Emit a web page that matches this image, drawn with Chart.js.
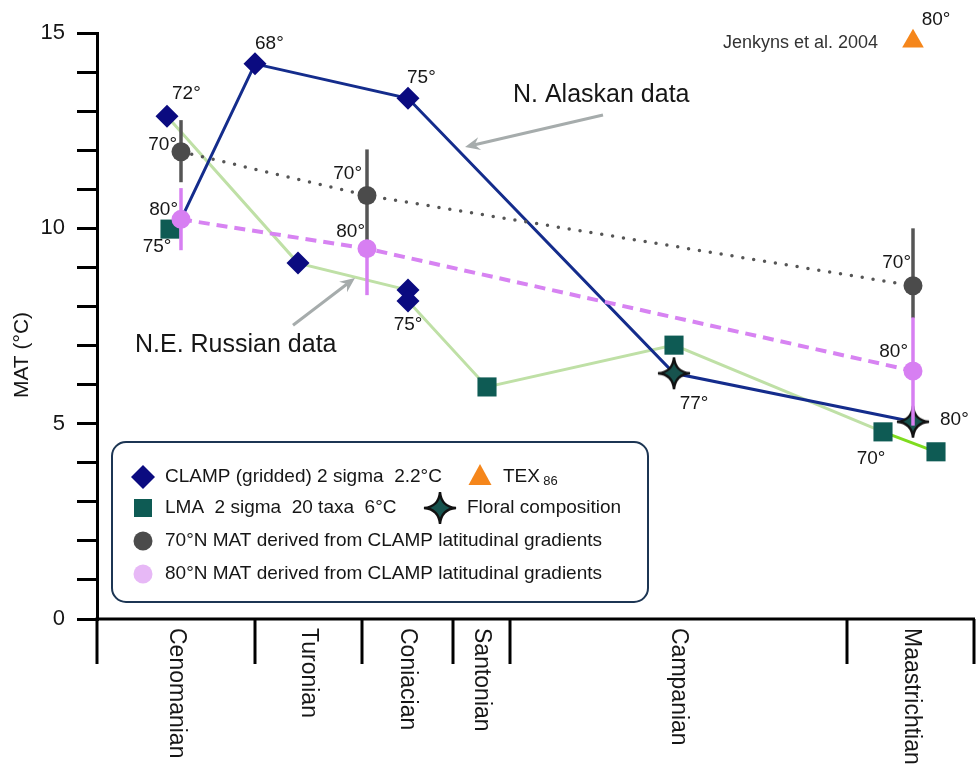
<!DOCTYPE html>
<html>
<head>
<meta charset="utf-8">
<script src="https://cdn.jsdelivr.net/npm/chart.js@4.4.1/dist/chart.umd.min.js"></script>
<style>
  html, body { margin: 0; padding: 0; background: #fff; }
  canvas { display: block; }
</style>
</head>
<body>
<canvas id="matChart" width="977" height="769"></canvas>
<script>
// stages along the bottom axis (relative position units, left to right)
const stageNames = ['Cenomanian', 'Turonian', 'Coniacian', 'Santonian', 'Campanian', 'Maastrichtian'];
const stageBounds = [0, 158, 265, 356, 413, 750, 878];

// CLAMP (gridded) estimates
const clampX = [70, 158, 201, 311, 311, 311];
const clampY = [12.87, 14.21, 9.11, 13.33, 8.42, 8.14];
const clampLat = ['72°', '68°', '', '75°', '', '75°'];

// LMA estimates
const lmaX = [73, 390, 577, 786, 839];
const lmaY = [9.98, 5.94, 7.01, 4.79, 4.28];
const lmaLat = ['75°', '', '', '70°', ''];

// floral composition
const floralX = [577, 816];
const floralY = [6.29, 5.05];
const floralLat = ['77°', '80°'];

// TEX86
const texX = [816];
const texY = [14.79];
const texLat = ['80°'];

// MAT derived from CLAMP latitudinal gradients
const gradX = [84, 270, 816];
const mat70 = [11.96, 10.84, 8.53];
const mat70Lo = [11.18, 9.62, 7.70];
const mat70Hi = [12.77, 12.02, 10.00];
const mat70Lat = ['70°', '70°', '70°'];
const mat80 = [10.23, 9.48, 6.35];
const mat80Lo = [9.44, 8.29, 4.95];
const mat80Hi = [11.03, 9.60, 7.72];
const mat80Lat = ['80°', '80°', '80°'];

// connecting lines
const alaskaX = [84, 158, 311, 577, 816];
const alaskaY = [10.23, 14.21, 13.33, 6.29, 5.05];
const russiaX = [70, 201, 311, 311, 390, 577, 786, 839];
const russiaY = [12.87, 9.11, 8.42, 8.14, 5.94, 7.01, 4.79, 4.28];

// free text notes (in axis units)
const notes = [
  { text: 'N. Alaskan data', x: 416, y: 13.41, size: 25, align: 'left' },
  { text: 'N.E. Russian data', x: 38, y: 7.01, size: 25, align: 'left' },
  { text: 'Jenkyns et al. 2004', x: 781, y: 14.74, size: 18, align: 'right', color: '#333' }
];
const arrows = [
  { from: [506, 12.90], to: [368, 12.08] },
  { from: [196, 7.52], to: [258, 8.73] }
];

const FONT = "'Liberation Sans', Arial, Helvetica, sans-serif";
const INK = '#161616';

function pts(xs, ys) {
  return xs.map((x, i) => ({ x: x, y: ys[i] }));
}

function makeStar(size) {
  const c = document.createElement('canvas');
  c.width = size;
  c.height = size;
  const g = c.getContext('2d');
  const m = size / 2, e = 5, k = size * 0.03;
  g.beginPath();
  g.moveTo(m, e);
  g.quadraticCurveTo(m + k, m - k, size - e, m);
  g.quadraticCurveTo(m + k, m + k, m, size - e);
  g.quadraticCurveTo(m - k, m + k, e, m);
  g.quadraticCurveTo(m - k, m - k, m, e);
  g.closePath();
  g.fillStyle = '#17534e';
  g.fill();
  g.lineWidth = 2.4;
  g.strokeStyle = '#111';
  g.stroke();
  return c;
}
const starImg = makeStar(42);

function roundBox(ctx, x, y, w, h, r) {
  ctx.beginPath();
  ctx.moveTo(x + r, y);
  ctx.arcTo(x + w, y, x + w, y + h, r);
  ctx.arcTo(x + w, y + h, x, y + h, r);
  ctx.arcTo(x, y + h, x, y, r);
  ctx.arcTo(x, y, x + w, y, r);
  ctx.closePath();
}

function drawMarker(ctx, kind, color, x, y) {
  ctx.fillStyle = color;
  ctx.beginPath();
  if (kind === 'diamond') {
    ctx.moveTo(x - 12, y); ctx.lineTo(x, y - 12); ctx.lineTo(x + 12, y); ctx.lineTo(x, y + 12);
  } else if (kind === 'square') {
    ctx.rect(x - 9, y - 9, 18, 18);
  } else if (kind === 'circle') {
    ctx.arc(x, y, 9.5, 0, Math.PI * 2);
  } else if (kind === 'triangle') {
    ctx.moveTo(x, y - 13); ctx.lineTo(x + 11.5, y + 8); ctx.lineTo(x - 11.5, y + 8);
  } else if (kind === 'star') {
    ctx.drawImage(starImg, x - starImg.width / 2, y - starImg.height / 2);
    return;
  }
  ctx.closePath();
  ctx.fill();
}

function drawArrow(ctx, x1, y1, x2, y2) {
  const a = Math.atan2(y2 - y1, x2 - x1);
  const len = 15, half = 6.5, notch = 10;
  ctx.save();
  ctx.strokeStyle = '#a6acac';
  ctx.fillStyle = '#a6acac';
  ctx.lineWidth = 3;
  ctx.beginPath();
  ctx.moveTo(x1, y1);
  ctx.lineTo(x2 - Math.cos(a) * notch, y2 - Math.sin(a) * notch);
  ctx.stroke();
  ctx.translate(x2, y2);
  ctx.rotate(a);
  ctx.beginPath();
  ctx.moveTo(0, 0);
  ctx.lineTo(-len, -half);
  ctx.lineTo(-notch, 0);
  ctx.lineTo(-len, half);
  ctx.closePath();
  ctx.fill();
  ctx.restore();
}

const overlay = {
  id: 'overlay',
  beforeDatasetDraw(chart, args) {
    const ds = chart.data.datasets[args.index];
    if (!ds.errLo) return;
    const ctx = chart.ctx, xs = chart.scales.x, ys = chart.scales.y;
    ctx.save();
    ctx.strokeStyle = ds.errColor;
    ctx.lineWidth = 3.5;
    ds.data.forEach((p, i) => {
      const px = xs.getPixelForValue(p.x);
      ctx.beginPath();
      ctx.moveTo(px, ys.getPixelForValue(ds.errHi[i]));
      ctx.lineTo(px, ys.getPixelForValue(ds.errLo[i]));
      ctx.stroke();
    });
    ctx.restore();
  },
  afterDraw(chart) {
    const ctx = chart.ctx, xs = chart.scales.x, ys = chart.scales.y;
    const area = chart.chartArea;
    ctx.save();

    // bottom axis with stage boundaries
    ctx.strokeStyle = '#000';
    ctx.lineWidth = 3;
    ctx.beginPath();
    ctx.moveTo(area.left - 1.5, area.bottom);
    ctx.lineTo(area.right, area.bottom);
    ctx.stroke();
    stageBounds.forEach(b => {
      const px = Math.min(xs.getPixelForValue(b), area.right - 1);
      ctx.beginPath();
      ctx.moveTo(px, area.bottom);
      ctx.lineTo(px, area.bottom + 45);
      ctx.stroke();
    });
    ctx.fillStyle = INK;
    ctx.font = '23px ' + FONT;
    ctx.textAlign = 'left';
    ctx.textBaseline = 'middle';
    stageNames.forEach((name, i) => {
      const cx = xs.getPixelForValue((stageBounds[i] + stageBounds[i + 1]) / 2);
      ctx.save();
      ctx.translate(cx, area.bottom + 9);
      ctx.rotate(Math.PI / 2);
      ctx.fillText(name, 0, 0);
      ctx.restore();
    });

    // y axis title
    ctx.save();
    ctx.translate(22, 355);
    ctx.rotate(-Math.PI / 2);
    ctx.textAlign = 'center';
    ctx.font = '21px ' + FONT;
    ctx.fillText('MAT (°C)', 0, 0);
    ctx.restore();

    // palaeolatitude tags beside the points
    ctx.font = '19px ' + FONT;
    ctx.fillStyle = INK;
    chart.data.datasets.forEach((ds, di) => {
      if (!ds.tags) return;
      const meta = chart.getDatasetMeta(di);
      ds.tags.forEach((t, i) => {
        if (!t) return;
        const pos = ds.tagPos[i];
        const el = meta.data[i];
        ctx.textAlign = pos[2];
        ctx.fillText(t, el.x + pos[0], el.y + pos[1]);
      });
    });

    // notes and arrows
    notes.forEach(n => {
      ctx.font = n.size + 'px ' + FONT;
      ctx.fillStyle = n.color || INK;
      ctx.textAlign = n.align;
      ctx.fillText(n.text, xs.getPixelForValue(n.x), ys.getPixelForValue(n.y));
    });
    arrows.forEach(a => {
      drawArrow(ctx,
        xs.getPixelForValue(a.from[0]), ys.getPixelForValue(a.from[1]),
        xs.getPixelForValue(a.to[0]), ys.getPixelForValue(a.to[1]));
    });

    // legend box
    roundBox(ctx, 112, 442, 536, 160, 14);
    ctx.fillStyle = '#fff';
    ctx.fill();
    ctx.strokeStyle = '#1c3553';
    ctx.lineWidth = 2;
    ctx.stroke();
    const slots = [[143, 477], [143, 508], [143, 541], [143, 574], [480, 477], [440, 508]];
    const textX = [165, 165, 165, 165, 503, 467];
    ctx.textAlign = 'left';
    chart.data.datasets.forEach(ds => {
      if (ds.legendSlot === undefined) return;
      const s = ds.legendSlot;
      drawMarker(ctx, ds.legendMarker, ds.legendColor, slots[s][0], slots[s][1]);
      ctx.fillStyle = INK;
      ctx.font = '19px ' + FONT;
      ctx.fillText(ds.label, textX[s], slots[s][1]);
      if (ds.legendSub) {
        const w = ctx.measureText(ds.label + ' ').width;
        ctx.font = '13px ' + FONT;
        ctx.fillText(ds.legendSub, textX[s] + w - 2, slots[s][1] + 4);
      }
    });
    ctx.restore();
  }
};

const datasets = [
  {
    label: '80°N MAT derived from CLAMP latitudinal gradients',
    data: pts(gradX, mat80), order: 0,
    pointStyle: 'circle', pointRadius: 9.5, pointBackgroundColor: '#d77ff2', pointBorderWidth: 0,
    errLo: mat80Lo, errHi: mat80Hi, errColor: '#d77ff2',
    tags: mat80Lat, tagPos: [[-3, -10, 'right'], [-2, -17, 'right'], [-5, -19, 'right']],
    legendSlot: 3, legendMarker: 'circle', legendColor: '#e7b8f6'
  },
  {
    label: '70°N MAT derived from CLAMP latitudinal gradients',
    data: pts(gradX, mat70), order: 1,
    pointStyle: 'circle', pointRadius: 9.5, pointBackgroundColor: '#4b4b4b', pointBorderWidth: 0,
    errLo: mat70Lo, errHi: mat70Hi, errColor: '#555555',
    tags: mat70Lat, tagPos: [[-4, -7, 'right'], [-5, -22, 'right'], [-2, -23, 'right']],
    legendSlot: 2, legendMarker: 'circle', legendColor: '#4b4b4b'
  },
  {
    label: 'TEX',
    data: pts(texX, texY), order: 0, clip: false,
    pointStyle: 'triangle', pointRadius: 12.5, pointBackgroundColor: '#f5861b', pointBorderWidth: 0,
    tags: texLat, tagPos: [[23, -21, 'center']],
    legendSlot: 4, legendMarker: 'triangle', legendColor: '#f5861b', legendSub: '86'
  },
  {
    label: 'Floral composition',
    data: pts(floralX, floralY), order: 2,
    pointStyle: starImg, pointRadius: 16,
    tags: floralLat, tagPos: [[20, 30, 'center'], [27, -2, 'left']],
    legendSlot: 5, legendMarker: 'star'
  },
  {
    label: 'CLAMP (gridded) 2 sigma  2.2°C',
    data: pts(clampX, clampY), order: 3,
    pointStyle: 'rectRot', pointRadius: 11.5, pointBackgroundColor: '#0b0b80', pointBorderWidth: 0,
    tags: clampLat, tagPos: [[5, -22, 'left'], [0, -20, 'left'], [0, 0, 'left'], [-1, -20, 'left'], [0, 0, 'left'], [0, 24, 'center']],
    legendSlot: 0, legendMarker: 'diamond', legendColor: '#0b0b80'
  },
  {
    label: 'LMA  2 sigma  20 taxa  6°C',
    data: pts(lmaX, lmaY), order: 4,
    pointStyle: 'rect', pointRadius: 13.5, pointBackgroundColor: '#0e5b54', pointBorderWidth: 0,
    tags: lmaLat, tagPos: [[-13, 18, 'center'], [0, 0, 'left'], [0, 0, 'left'], [-12, 27, 'center'], [0, 0, 'left']],
    legendSlot: 1, legendMarker: 'square', legendColor: '#0e5b54'
  },
  {
    label: '80°N trend',
    data: pts(gradX, mat80), order: 5, showLine: true, pointRadius: 0,
    borderColor: '#d783f2', borderWidth: 4, borderDash: [11, 7]
  },
  {
    label: '70°N trend',
    data: pts(gradX, mat70), order: 6, showLine: true, pointRadius: 0,
    borderColor: '#555555', borderWidth: 3.5, borderDash: [0, 11], borderCapStyle: 'round'
  },
  {
    label: 'N. Alaskan data',
    data: pts(alaskaX, alaskaY), order: 7, showLine: true, pointRadius: 0,
    borderColor: '#142c8c', borderWidth: 3
  },
  {
    label: 'N.E. Russian data',
    data: pts(russiaX, russiaY), order: 8, showLine: true, pointRadius: 0,
    borderColor: '#bfe0a6', borderWidth: 3,
    segment: {
      borderColor: c => (c.p1DataIndex === russiaX.length - 1 ? '#7fdc1f' : '#bfe0a6')
    }
  }
];

new Chart(document.getElementById('matChart').getContext('2d'), {
  type: 'scatter',
  data: { datasets: datasets },
  options: {
    responsive: false,
    animation: false,
    devicePixelRatio: 1,
    layout: { autoPadding: false, padding: { left: 0, right: 2, top: 33, bottom: 150 } },
    plugins: {
      legend: { display: false },
      tooltip: { enabled: false }
    },
    scales: {
      x: { type: 'linear', min: 0, max: 878, display: false },
      y: {
        min: 0,
        max: 15,
        afterFit: s => { s.width = 97; },
        border: { display: true, width: 3, color: '#000' },
        grid: { drawOnChartArea: false, drawTicks: true, tickLength: 20, lineWidth: 3, color: '#000' },
        ticks: {
          stepSize: 1,
          autoSkip: false,
          padding: 12,
          color: INK,
          font: { size: 22, family: FONT },
          callback: v => (v % 5 === 0 ? v : '')
        }
      }
    }
  },
  plugins: [overlay]
});
</script>
</body>
</html>
